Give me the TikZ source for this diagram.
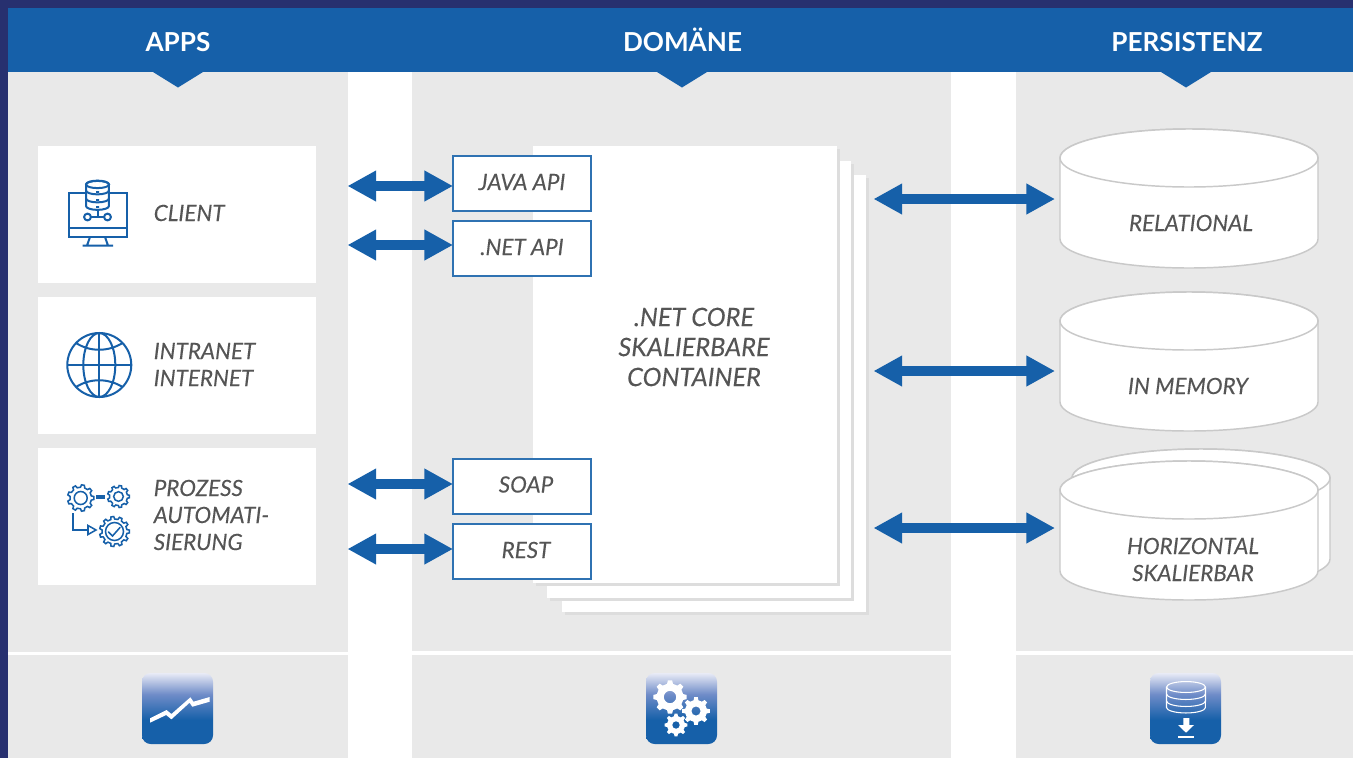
\documentclass[tikz,border=0pt]{standalone}
\usepackage{fontspec}
\setmainfont{Lato}
\newfontfamily\labelfont[ItalicFeatures={FakeBold=0.12}]{Lato}
\usetikzlibrary{arrows.meta,calc}
\definecolor{navy}{HTML}{27306F}
\definecolor{band}{HTML}{1660A9}
\definecolor{panel}{HTML}{E9E9E9}
\definecolor{ink}{HTML}{555555}
\definecolor{cylline}{HTML}{C9C9C9}
\definecolor{boxline}{HTML}{2F72B2}
\definecolor{pageline}{HTML}{DDDDDD}
\definecolor{shtop}{HTML}{E9EBF6}
\definecolor{shmid}{HTML}{6F8CC8}
\pgfdeclareverticalshading{iconshade}{100bp}{color(0bp)=(band); color(25bp)=(band); color(42bp)=(band); color(60bp)=(shmid); color(75bp)=(shtop); color(100bp)=(shtop)}
\tikzset{
  x=0.75pt,y=-0.75pt,
  paneltext/.style={font=\fontsize{16.8pt}{20pt}\labelfont\itshape,text=ink,inner sep=0pt,text height=12pt,text depth=0pt},
  leftlabel/.style={paneltext,anchor=west},
  bigtext/.style={font=\fontsize{19pt}{22.5pt}\labelfont\itshape,text=ink,inner sep=0pt,text height=13.6pt,text depth=0pt},
  headtext/.style={font=\fontsize{19.6pt}{24pt}\selectfont\bfseries,text=white,inner sep=0pt,text height=14.3pt,text depth=0pt},
  card/.style={fill=white,draw=none,minimum width=208.5pt,minimum height=102.75pt,inner sep=0pt,outer sep=0pt},
  apibox/.style={fill=white,draw=boxline,line width=0.85pt,minimum width=103.5pt,minimum height=41.25pt,inner sep=0pt,outer sep=0pt},
  pagebox/.style={fill=white,draw=none,minimum width=228pt,minimum height=327.75pt,inner sep=0pt,outer sep=0pt},
  pageshadow/.style={fill=pageline},
  cylbox/.style={minimum width=193.5pt,minimum height=105pt,inner sep=0pt,outer sep=0pt},
  biarrow/.style={draw=band,line width=7.5pt,{Triangle[length=21.5pt,width=21.75pt,fill=band]}-{Triangle[length=21.5pt,width=21.75pt,fill=band]}},
  iconline/.style={draw=band,line width=1.5pt},
  gearline/.style={draw=band,line width=1.15pt},
  iconsq/.style={shading=iconshade,rounded corners=6.5pt},
  cylstyle/.style={fill=white,draw=cylline,line width=1.1pt},
}
\newcommand\cyl[2]{%
  \path[cylstyle] (#1-129,#2) -- (#1-129,#2+81)
    arc[start angle=180,end angle=360,x radius=96.75pt,y radius=21.75pt]
    -- (#1+129,#2)
    arc[start angle=0,end angle=180,x radius=96.75pt,y radius=21.75pt] -- cycle;
  \path[cylstyle] (#1,#2) ellipse [x radius=96.75pt,y radius=21.75pt];
}
% style, cx, cy, outer r, root r, teeth, hole r
\newcommand\gearmark[7]{%
  \begin{scope}[shift={(#2,#3)}]
    \pgfmathsetmacro\gst{360/#6}
    \path[#1,even odd rule] (-0.28*\gst:#5)
      foreach \k in {1,...,#6} {
        -- ({(\k-1-.28)*\gst}:#5) -- ({(\k-1-.16)*\gst}:#4)
        -- ({(\k-1+.16)*\gst}:#4) -- ({(\k-1+.28)*\gst}:#5)
      } -- cycle (0,0) circle (#7);
  \end{scope}%
}
\begin{document}
\begin{tikzpicture}
\useasboundingbox (0,0) rectangle (1353,758);
% frame and columns
\fill[navy] (0,0) rectangle (1353,758);
\fill[white] (8,8) rectangle (1353,758);
\fill[panel] (8,72) rectangle (348,652);
\fill[panel] (412,72) rectangle (951,651);
\fill[panel] (1016,72) rectangle (1353,651);
\fill[panel] (8,655) rectangle (348,758);
\fill[panel] (412,655) rectangle (951,758);
\fill[panel] (1016,655) rectangle (1353,758);
% header band
\fill[band] (8,8) rectangle (1353,72);
\fill[band] (153,72) -- (203,72) -- (178,87.5) -- cycle;
\fill[band] (657,72) -- (707,72) -- (682,87.5) -- cycle;
\fill[band] (1161,72) -- (1211,72) -- (1186,87.5) -- cycle;
\node[headtext] (happs) at (178,41.5) {APPS};
\node[headtext] (hdom) at (682.5,41.5) {DOMÄNE};
\node[headtext] (hpers) at (1187,41.5) {PERSISTENZ};
% cards
\node[card] (client) at (177,214.5) {};
\node[card] (intranet) at (177,365.5) {};
\node[card] (prozess) at (177,516.5) {};
\node[leftlabel] (tclient) at (153.5,213) {CLIENT};
\node[leftlabel] (tintra) at (153.5,351) {INTRANET};
\node[leftlabel] (tinter) at (153.5,378) {INTERNET};
\node[leftlabel] (tproz) at (153.5,488) {PROZESS};
\node[leftlabel] (tauto) at (153.5,515) {AUTOMATI-};
\node[leftlabel] (tsier) at (153.5,542) {SIERUNG};
% client icon
\draw[iconline] (68.5,192.5) rectangle (127,237);
\draw[iconline] (68.5,227.5) -- (127,227.5);
\draw[iconline] (90,237) -- (87,245.5) (105,237) -- (108,245.5) (82.5,245.5) -- (113,245.5);
\draw[iconline] (97.5,210) -- (97.5,217) (91,217) -- (104,217);
\draw[iconline,fill=white] (87.5,217) circle (3.4);
\draw[iconline,fill=white] (107.5,217) circle (3.4);
\path[iconline,fill=white] (86,184.5) -- (86,206)
   arc[start angle=180,end angle=360,x radius=8.6pt,y radius=2.9pt]
   -- (109,184.5) arc[start angle=0,end angle=180,x radius=8.6pt,y radius=2.9pt] -- cycle;
\path[iconline] (97.5,184.5) ellipse [x radius=8.6pt,y radius=2.7pt];
\draw[iconline] (86,190.5) arc[start angle=180,end angle=360,x radius=8.6pt,y radius=2.9pt];
\draw[iconline] (86,198.5) arc[start angle=180,end angle=360,x radius=8.6pt,y radius=2.9pt];
\fill[band] (96,191) rectangle (99,193) (96,199) rectangle (99,201) (96,206) rectangle (99,208);
% globe icon
\draw[iconline] (99.3,365) circle (32);
\path[iconline] (99.3,365) ellipse [x radius=12pt,y radius=24pt];
\draw[iconline] (99.3,333) -- (99.3,397) (67.3,365) -- (131.3,365);
\draw[iconline] (76,343) .. controls (90,352) and (108,352) .. (122.6,343);
\draw[iconline] (76,387) .. controls (90,378) and (108,378) .. (122.6,387);
% process icon
\gearmark{gearline}{80.7}{498}{13.2}{10.8}{9}{6.5}
\gearmark{gearline}{118.5}{496.5}{11}{9}{9}{4.8}
\gearmark{gearline}{114.5}{531.5}{15}{12.5}{11}{9}
\draw[band,line width=2.6pt] (96,497) -- (105,497);
\draw[gearline] (73,513) -- (73,530) -- (88,530);
\draw[gearline,fill=white,line join=miter] (88,525.5) -- (96,530) -- (88,534.5) -- cycle;
\draw[gearline,line cap=round] (108.5,532) -- (112.5,536) -- (120,527.5);
% stacked pages with hard offset shadow
\fill[pageshadow] (564.5,178) rectangle (868.7,615);
\node[pagebox] (page3) at (714,393.5) {};
\fill[pageshadow] (550,164) rectangle (854,601);
\node[pagebox] (page2) at (699,379.5) {};
\fill[pageshadow] (536,149) rectangle (840,586);
\node[pagebox] (page1) at (685,364.5) {};
\node[bigtext] (tcore) at (694,317) {.NET CORE};
\node[bigtext] (tskal) at (694,347) {SKALIERBARE};
\node[bigtext] (tcont) at (694,377) {CONTAINER};
% api boxes
\node[apibox] (java) at (522,183.5) {};
\node[apibox] (netapi) at (522,248.5) {};
\node[apibox] (soap) at (522,486.5) {};
\node[apibox] (rest) at (522,551.5) {};
\node[paneltext] at (522,182) {JAVA API};
\node[paneltext] at (522,247) {.NET API};
\node[paneltext] at (526,484.5) {SOAP};
\node[paneltext] at (526,550) {REST};
% left arrows
\coordinate (l1) at (347.5,186);
\coordinate (l2) at (347.5,245);
\coordinate (l3) at (347.5,484);
\coordinate (l4) at (347.5,549);
\draw[biarrow] (l1) -- (l1 -| java.west);
\draw[biarrow] (l2) -- (l2 -| netapi.west);
\draw[biarrow] (l3) -- (l3 -| soap.west);
\draw[biarrow] (l4) -- (l4 -| rest.west);
% cylinders
\node[cylbox] (relational) at (1189,198) {};
\node[cylbox] (memory) at (1189,361) {};
\node[cylbox] (horizontal) at (1189,530) {};
\cyl{1201}{478}
\cyl{1189}{490}
\cyl{1189}{158}
\cyl{1189}{321}
\node[paneltext] at (1191,223) {RELATIONAL};
\node[paneltext] at (1188,386) {IN MEMORY};
\node[paneltext] at (1193,546) {HORIZONTAL};
\node[paneltext] at (1193,573) {SKALIERBAR};
% right arrows
\coordinate (r1) at (873.5,199);
\coordinate (r2) at (873.5,371);
\coordinate (r3) at (873.5,528);
\draw[biarrow,shorten >=3.75pt] (r1) -- (r1 -| relational.west);
\draw[biarrow,shorten >=3.75pt] (r2) -- (r2 -| memory.west);
\draw[biarrow,shorten >=3.75pt] (r3) -- (r3 -| horizontal.west);
% footer icons
\path[iconsq] (142,673) rectangle (213,744);
\path[iconsq] (646,673) rectangle (717,744);
\path[iconsq] (1150,673) rectangle (1221,744);
\fill[white] (150,718.3) -- (166.6,710) -- (171.4,714) -- (190.4,697.3) -- (193.5,701.7) -- (209.7,697)
  -- (209.7,701.7) -- (192.3,706.7) -- (189.6,702.7) -- (171.4,719.3) -- (166.2,715) -- (150,722.7) -- cycle;
\gearmark{fill=white,draw=none}{670}{697}{16.8}{13.5}{8}{6.2}
\gearmark{fill=white,draw=none}{696}{711}{14}{11}{8}{4.6}
\gearmark{fill=white,draw=none}{676}{725}{11.5}{9}{8}{3.8}
\draw[white,line width=0.8pt] (1166.5,687) -- (1166.5,707.5)
   arc[start angle=180,end angle=360,x radius=14.6pt,y radius=4.1pt] -- (1205.5,687);
\draw[white,line width=0.8pt] (1186,687) ellipse [x radius=14.6pt,y radius=4.1pt];
\draw[white,line width=0.8pt] (1166.5,694) arc[start angle=180,end angle=360,x radius=14.6pt,y radius=4.1pt];
\draw[white,line width=0.8pt] (1166.5,701) arc[start angle=180,end angle=360,x radius=14.6pt,y radius=4.1pt];
\fill[white] (1183.3,718) rectangle (1189.3,725) (1178,725) -- (1194,725) -- (1186,732.7) -- cycle;
\fill[white] (1178,736) rectangle (1194,737.8);
\end{tikzpicture}
\end{document}
